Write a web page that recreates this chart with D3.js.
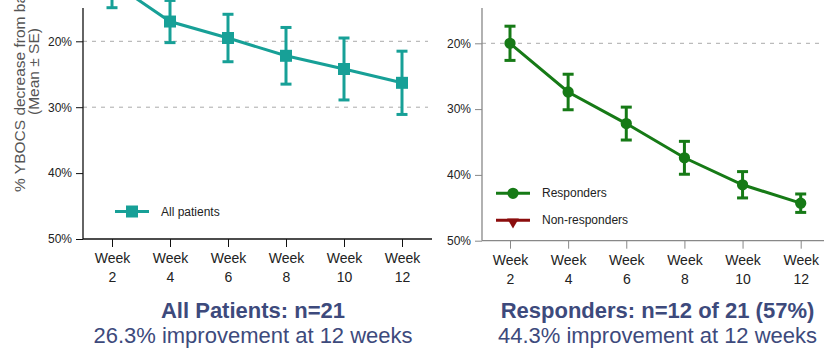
<!DOCTYPE html>
<html>
<head>
<meta charset="utf-8">
<script src="https://cdn.jsdelivr.net/npm/d3@7"></script>
<style>
  body { margin: 0; background: #fff; }
  svg { display: block; font-family: Arial, "Liberation Sans", sans-serif; }
</style>
</head>
<body>
<svg id="chart" width="824" height="353"></svg>
<script>
const weeks = [2, 4, 6, 8, 10, 12];
const allMean = [11.0, 17.0, 19.5, 22.2, 24.2, 26.3];
const allSE = [3.9, 3.2, 3.6, 4.3, 4.7, 4.8];
const respMean = [20.0, 27.4, 32.2, 37.4, 41.5, 44.3];
const respSE = [2.6, 2.7, 2.5, 2.5, 2.0, 1.4];
const yTicks = [20, 30, 40, 50];
const gridLeft = [20, 30];
const gridRight = [20];
const titles = ["All Patients: n=21", "Responders: n=12 of 21 (57%)"];
const subtitles = ["26.3% improvement at 12 weeks", "44.3% improvement at 12 weeks"];

const svg = d3.select("#chart");
const navy = "#3d4a7c";

function panel(opts) {
  const x = d3.scaleLinear().domain([2, 12]).range(opts.xr);
  const y = d3.scaleLinear().domain([20, 50]).range(opts.yr);
  const g = svg.append("g");
  const base = y(50);

  // dashed grid
  g.selectAll("line.grid")
    .data(opts.grid)
    .join("line")
    .attr("x1", opts.left)
    .attr("x2", opts.right)
    .attr("y1", (d) => y(d))
    .attr("y2", (d) => y(d))
    .attr("stroke", "#aaa")
    .attr("stroke-dasharray", "4,5");

  // y axis
  const ya = g.append("g")
    .attr("transform", `translate(${opts.left},0)`)
    .call(d3.axisLeft(y).tickValues(yTicks).tickSize(7).tickPadding(4).tickFormat((d) => d + "%"));
  ya.select(".domain").remove();
  ya.selectAll(".tick line").attr("stroke", opts.axisColor);
  ya.selectAll(".tick text").attr("fill", "#222").style("font-size", "12px")
    .style("font-family", "Arial, 'Liberation Sans', sans-serif");
  g.append("line")
    .attr("x1", opts.left).attr("x2", opts.left)
    .attr("y1", 8).attr("y2", base)
    .attr("stroke", opts.axisColor).attr("stroke-width", 1.3);

  // x axis
  const xa = g.append("g")
    .attr("transform", `translate(0,${base})`)
    .call(d3.axisBottom(x).tickValues(weeks).tickSize(8).tickFormat(""));
  xa.select(".domain").remove();
  xa.selectAll(".tick line").attr("stroke", opts.axisColor);
  xa.selectAll(".tick")
    .append("text")
    .attr("fill", "#222")
    .attr("text-anchor", "middle")
    .style("font-size", "14px")
    .style("font-family", "Arial, 'Liberation Sans', sans-serif")
    .call((t) => {
      t.append("tspan").attr("x", 0).attr("y", 24).text("Week");
      t.append("tspan").attr("x", 0).attr("y", 43).text((d) => d);
    });
  g.append("line")
    .attr("x1", opts.left).attr("x2", opts.right + 4)
    .attr("y1", base).attr("y2", base)
    .attr("stroke", opts.axisColor).attr("stroke-width", 1.3);

  // series
  const pts = weeks.map((w, i) => ({ w, m: opts.mean[i], se: opts.se[i] }));
  g.append("path")
    .datum(pts)
    .attr("fill", "none")
    .attr("stroke", opts.color)
    .attr("stroke-width", 3)
    .attr("d", d3.line().x((d) => x(d.w)).y((d) => y(d.m)));

  const eb = g.selectAll("g.err").data(pts).join("g");
  eb.append("line")
    .attr("x1", (d) => x(d.w)).attr("x2", (d) => x(d.w))
    .attr("y1", (d) => y(d.m - d.se)).attr("y2", (d) => y(d.m + d.se))
    .attr("stroke", opts.color).attr("stroke-width", 3);
  [-1, 1].forEach((s) => {
    eb.append("line")
      .attr("x1", (d) => x(d.w) - 5.5).attr("x2", (d) => x(d.w) + 5.5)
      .attr("y1", (d) => y(d.m + s * d.se)).attr("y2", (d) => y(d.m + s * d.se))
      .attr("stroke", opts.color).attr("stroke-width", 3);
  });
  g.selectAll("path.mk")
    .data(pts)
    .join("path")
    .attr("transform", (d) => `translate(${x(d.w)},${y(d.m)})`)
    .attr("d", d3.symbol().type(opts.symbol).size(opts.symSize))
    .attr("fill", opts.color);

  // legend
  opts.legend.forEach((L, i) => {
    const ly = opts.legY + i * 27;
    g.append("line")
      .attr("x1", opts.legX).attr("x2", opts.legX + 34)
      .attr("y1", ly).attr("y2", ly)
      .attr("stroke", L.color).attr("stroke-width", 3);
    g.append("path")
      .attr("transform", `translate(${opts.legX + 17},${ly + (L.dy || 0)}) rotate(${L.rot || 0})`)
      .attr("d", d3.symbol().type(L.symbol).size(L.size))
      .attr("fill", L.color);
    g.append("text")
      .attr("x", opts.legX + 46).attr("y", ly + 4)
      .attr("fill", "#222")
      .style("font-size", "12px")
      .text(L.label);
  });

  // titles
  g.append("text")
    .attr("x", opts.cx).attr("y", 318)
    .attr("text-anchor", "middle")
    .attr("fill", navy)
    .style("font-size", "22px").style("font-weight", "bold")
    .text(opts.title);
  g.append("text")
    .attr("x", opts.cx).attr("y", 343)
    .attr("text-anchor", "middle")
    .attr("fill", navy)
    .style("font-size", "22px")
    .text(opts.subtitle);
}

panel({
  xr: [112, 402], yr: [41.3, 239], left: 83, right: 428,
  grid: gridLeft, axisColor: "#111", color: "#17a097",
  mean: allMean, se: allSE, symbol: d3.symbolSquare, symSize: 144,
  legX: 115, legY: 211.5,
  legend: [{ label: "All patients", color: "#17a097", symbol: d3.symbolSquare, size: 144 }],
  cx: 253, title: titles[0], subtitle: subtitles[0]
});

panel({
  xr: [510, 800.7], yr: [43.3, 240.7], left: 482, right: 824,
  grid: gridRight, axisColor: "#888", color: "#167a16",
  mean: respMean, se: respSE, symbol: d3.symbolCircle, symSize: 100,
  legX: 496, legY: 193.3,
  legend: [
    { label: "Responders", color: "#167a16", symbol: d3.symbolCircle, size: 100 },
    { label: "Non-responders", color: "#8b0d0d", symbol: d3.symbolTriangle, size: 60, dy: 1.5, rot: 180 }
  ],
  cx: 657.5, title: titles[1], subtitle: subtitles[1]
});

// y axis title (cut off at the top like the original)
svg.append("text")
  .attr("transform", "translate(25,192) rotate(-90)")
  .attr("fill", "#555")
  .style("font-size", "15.5px")
  .text("% YBOCS decrease from baseline");
svg.append("text")
  .attr("transform", "translate(39,71.5) rotate(-90)")
  .attr("text-anchor", "middle")
  .attr("fill", "#555")
  .style("font-size", "15.5px")
  .text("(Mean ± SE)");
</script>
</body>
</html>
